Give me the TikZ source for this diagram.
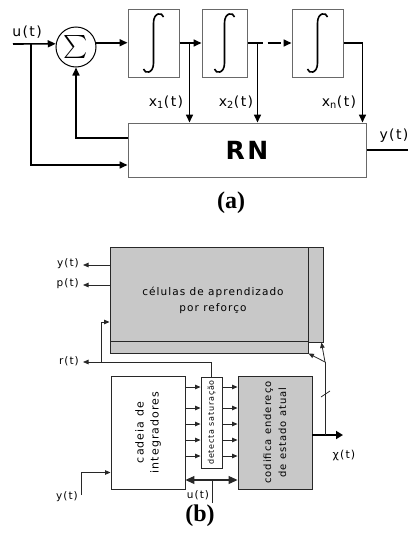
\documentclass[tikz,border=0pt]{standalone}
\usepackage{fontspec}
\usetikzlibrary{arrows.meta}
\newfontfamily\lab[LetterSpace=10]{DejaVu Sans}
\newfontfamily\capfont{Liberation Serif}
\definecolor{cellgray}{RGB}{200,200,200}
\definecolor{edgeA}{RGB}{105,105,105}
\definecolor{lineB}{RGB}{40,40,40}
\begin{document}
\begin{tikzpicture}[x=1pt,y=-1pt,
  boxA/.style={draw=edgeA,line width=1pt,fill=white,inner sep=0pt},
  lnA/.style={line width=1.6pt},
  arA/.style={lnA,-{Triangle[length=8pt,width=7pt]}},
  boxB/.style={draw=lineB,line width=0.9pt,inner sep=0pt},
  lnB/.style={line width=0.8pt,draw=lineB},
  arB/.style={lnB,-{Triangle[length=5.5pt,width=4.5pt]}},
  arD/.style={lnB,line width=1.1pt,{Triangle[length=9pt,width=8pt]}-{Triangle[length=9pt,width=8pt]}},
  arT/.style={line width=2.6pt,-{Triangle[length=7pt,width=8pt]}},
  labA/.style={inner sep=0pt,font=\lab\fontsize{14}{16}\selectfont},
  labB/.style={inner sep=0pt,font=\lab\fontsize{10.5}{12}\selectfont},
  captxt/.style={inner sep=0pt,font=\capfont\bfseries\fontsize{24}{26}\selectfont},
  integ/.pic={\draw[line width=1.6pt] (10,-26) .. controls (9,-31) and (0,-31) .. (0,-20) -- (0,20) .. controls (0,31) and (-9,31) .. (-10,26);}
]
\useasboundingbox (0,0) rectangle (408,533);
% ---------------- (a)
\node[circle,draw=black,line width=1pt,minimum size=40pt,inner sep=0pt] (sum) at (76,47) {\scalebox{2.3}{$\textstyle\sum$}};
\node[boxA,minimum width=51pt,minimum height=68pt] (b1) at (153.5,43) {};
\node[boxA,minimum width=45pt,minimum height=68pt] (b2) at (224.5,43) {};
\node[boxA,minimum width=51pt,minimum height=68pt] (b3) at (317.5,43) {};
\pic at (b1.center) {integ};
\pic at (b2.center) {integ};
\pic at (b3.center) {integ};
\node[boxA,minimum width=238pt,minimum height=54pt,font=\lab\bfseries\fontsize{25}{25}\selectfont] (rn) at (247,150) {RN};
\coordinate (uin) at (13,44);
\coordinate (j0) at (31,44);
\coordinate (yout) at (408,150);
\node[labA] (ulab) at (27,32) {u(t)};
\draw[arA] (uin) -- (sum.171);
\draw[arA] (j0) |- ([yshift=-15pt]rn.west);
\draw[arA] ([yshift=12pt]rn.west) -| (sum.south);
\draw[arA] (sum.12) -- (sum.12 -| b1.west);
\draw[arA] (b1.east) -- (b2.west);
\coordinate (j1) at ([xshift=10pt]b1.east);
\draw[arA] (j1) -- (j1 |- rn.north);
\draw[arA,dash pattern=on 15pt off 5pt on 13pt off 3pt] (b2.east) -- (b3.west);
\coordinate (j2) at ([xshift=10pt]b2.east);
\draw[arA] (j2) -- (j2 |- rn.north);
\draw[arA] (b3.east) -| ([xshift=-4pt]rn.north east);
\draw[lnA] (rn.east) -- (yout);
\node[labA] (x1lab) at (166,102) {x\textsubscript{1}(t)};
\node[labA] (x2lab) at (236,102) {x\textsubscript{2}(t)};
\node[labA] (xnlab) at (339,102) {x\textsubscript{n}(t)};
\node[labA] (ylabA) at (394,136) {y(t)};
\node[captxt] (capa) at (231,203) {(a)};
% ---------------- (b)
\node[boxB,fill=cellgray,minimum width=198pt,minimum height=94pt] (cel) at (209,294) {};
\node[boxB,fill=cellgray,minimum width=15pt,minimum height=95pt] (strR) at (315.5,294.5) {};
\node[boxB,fill=cellgray,minimum width=198pt,minimum height=12pt] (strB) at (209,347) {};
\node[labB,align=center,font=\lab\fontsize{10.5}{16}\selectfont] (celtxt) at (213,300) {células de aprendizado\\por reforço};
\node[boxB,fill=white,minimum width=74pt,minimum height=113pt] (cad) at (148,432.5) {};
\node[labB,rotate=90,align=center,font=\lab\fontsize{11}{15}\selectfont] (cadtxt) at (cad.center) {cadeia de\\integradores};
\node[boxB,fill=white,minimum width=21pt,minimum height=91pt] (det) at (211.5,422.5) {};
\node[labB,rotate=90,font=\lab\fontsize{8}{9}\selectfont] (dettxt) at (det.center) {detecta saturação};
\node[boxB,fill=cellgray,minimum width=74pt,minimum height=113pt] (cod) at (275,432.5) {};
\node[labB,rotate=90,align=center,font=\lab\fontsize{10}{15}\selectfont] (codtxt) at (cod.center) {codifica endereço\\de estado atual};
% left outputs
\coordinate (yo) at (83,265);
\coordinate (po) at (83,285);
\coordinate (rt) at (83,362);
\coordinate (rj) at (101,362);
\draw[arB] (cel.west |- yo) -- (yo);
\draw[arB] (cel.west |- po) -- (po);
\node[labB,anchor=east] (yolab) at ([xshift=-4pt,yshift=1pt]yo) {y(t)};
\node[labB,anchor=east] (polab) at ([xshift=-4pt,yshift=1pt]po) {p(t)};
\draw[arB] (det.north) |- (rt);
\draw[arB] (rj) |- ([yshift=-28pt]cel.west);
\node[labB,anchor=east] (rtlab) at ([xshift=-4pt,yshift=1pt]rt) {r(t)};
% rows
\foreach \yy in {387,408,424,440,456}{
  \draw[arB] (cad.east |- 0,\yy) -- (det.west |- 0,\yy);
  \draw[arB] (det.east |- 0,\yy) -- (cod.west |- 0,\yy);
}
\draw[arD] (cad.east |- 0,480) -- (cod.west |- 0,480);
\coordinate (ut) at (212,503);
\draw[lnB] (ut) -- (ut |- 0,480);
\node[labB] (utlab) at (198,495.5) {u(t)};
\coordinate (yin) at (81,495);
\draw[arB] (yin) |- ([yshift=-40pt]cad.west);
\node[labB] (yinlab) at (67,497) {y(t)};
% output
\coordinate (chi) at (343,435);
\coordinate (sp) at (325,362);
\draw[arT] (cod.east |- chi) -- (chi);
\draw[lnB] (sp |- chi) -- (sp);
\draw[arB] (sp) -- (strB.south east);
\draw[arB] (sp) -- ([xshift=-2pt]strR.south east);
\draw[lnB] (321,397) -- (330,391);
\node[labB,font=\lab\fontsize{11}{12}\selectfont] (chilab) at (344,455) {χ(t)};
\node[captxt] (capb) at (200,515.5) {(b)};
\end{tikzpicture}
\end{document}
